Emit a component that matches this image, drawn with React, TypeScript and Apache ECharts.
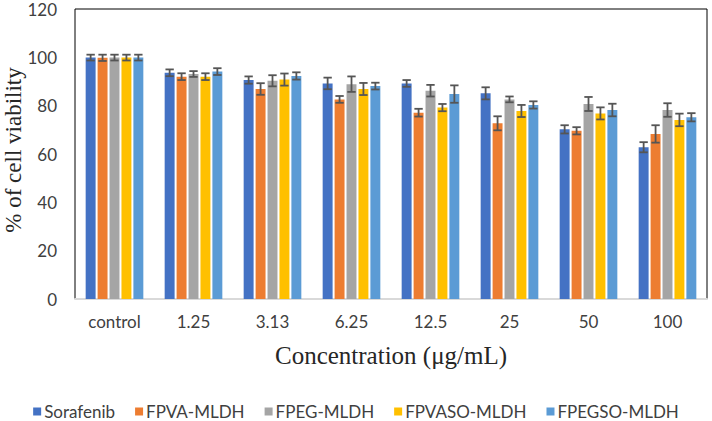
import React, { useEffect, useRef } from "react";
import * as echarts from "echarts";

const categories = ["control", "1.25", "3.13", "6.25", "12.5", "25", "50", "100"];
const seriesNames = ["Sorafenib", "FPVA-MLDH", "FPEG-MLDH", "FPVASO-MLDH", "FPEGSO-MLDH"];
const colors = ["#4472C4", "#ED7D31", "#A5A5A5", "#FFC000", "#5B9BD5"];

const sorafenib = [99.9, 93.6, 90.6, 89.2, 89.2, 85.1, 70.2, 62.8];
const fpva = [99.8, 92.0, 86.9, 82.6, 77.1, 72.7, 69.6, 68.3];
const fpeg = [99.9, 93.1, 90.3, 88.9, 86.2, 82.6, 80.7, 78.2];
const fpvaso = [99.9, 92.0, 90.8, 86.9, 79.2, 77.8, 76.8, 74.1];
const fpegso = [99.9, 94.1, 92.3, 88.1, 84.8, 80.3, 78.2, 75.2];

const errSorafenib = [1.2, 1.4, 1.5, 2.4, 1.4, 2.5, 1.7, 2.1];
const errFpva = [1.3, 1.4, 2.4, 1.4, 1.6, 2.9, 1.5, 3.6];
const errFpeg = [1.2, 1.2, 2.3, 3.2, 2.4, 1.2, 2.9, 2.8];
const errFpvaso = [1.2, 1.4, 2.5, 2.5, 1.5, 2.5, 2.5, 2.6];
const errFpegso = [1.2, 1.4, 1.5, 1.4, 3.6, 1.5, 2.6, 1.7];

const values = [sorafenib, fpva, fpeg, fpvaso, fpegso];
const errors = [errSorafenib, errFpva, errFpeg, errFpvaso, errFpegso];

const yTicks = { min: 0, max: 120, interval: 20 };
const yTitle = "% of cell viability";
const xTitle = "Concentration (μg/mL)";

const CAT_GAP = 0.27;
const BAR_GAP = 0.2;
const N = seriesNames.length;

export default function App() {
  const ref = useRef<HTMLDivElement>(null);
  useEffect(() => {
    if (!ref.current) return;
    const chart = echarts.init(ref.current, undefined, { renderer: "svg" });
    const tickFont = { fontFamily: "Lato", fontSize: 17, color: "#404040" };

    const barSeries = seriesNames.map((name, i) => ({
      name,
      type: "bar",
      data: values[i],
      itemStyle: { color: colors[i] },
      barGap: BAR_GAP * 100 + "%",
      barCategoryGap: CAT_GAP * 100 + "%",
    }));

    const errSeries = seriesNames.map((name, si) => ({
      name: name + " err",
      type: "custom",
      z: 5,
      data: values[si].map((v, ci) => [ci, v, errors[si][ci]]),
      renderItem: (params: any, api: any) => {
        const ci = api.value(0);
        const v = api.value(1);
        const e = api.value(2);
        const band = api.size([1, 0])[0];
        const usable = band * (1 - CAT_GAP);
        const bw = usable / (N + (N - 1) * BAR_GAP);
        const cx = api.coord([ci, v])[0] - usable / 2 + si * bw * (1 + BAR_GAP) + bw / 2;
        const yHi = api.coord([ci, v + e])[1];
        const yLo = api.coord([ci, v - e])[1];
        const half = bw * 0.42;
        const style = { stroke: "#555555", lineWidth: 1.8 };
        return {
          type: "group",
          children: [
            { type: "line", shape: { x1: cx, y1: yHi, x2: cx, y2: yLo }, style },
            { type: "line", shape: { x1: cx - half, y1: yHi, x2: cx + half, y2: yHi }, style },
            { type: "line", shape: { x1: cx - half, y1: yLo, x2: cx + half, y2: yLo }, style },
          ],
        };
      },
    }));

    chart.setOption({
      animation: false,
      grid: {
        left: 75,
        right: 5,
        top: 9,
        bottom: 122,
        show: true,
        borderColor: "#000",
        borderWidth: 1,
        backgroundColor: "transparent",
      },
      legend: {
        data: seriesNames,
        top: 398,
        left: "center",
        itemWidth: 8,
        itemHeight: 8,
        itemGap: 20,
        icon: "rect",
        textStyle: { fontFamily: "Lato", fontSize: 17, color: "#404040", padding: [0, 0, 0, -2] },
      },
      graphic: [
        {
          type: "text",
          x: 13,
          y: 150,
          rotation: Math.PI / 2,
          style: {
            text: yTitle,
            fontFamily: "Liberation Serif",
            fontSize: 23,
            fill: "#262626",
            align: "center",
            verticalAlign: "middle",
          },
        },
      ],
      xAxis: {
        type: "category",
        data: categories,
        axisLine: { show: true, lineStyle: { color: "#D9D9D9", width: 2 } },
        axisTick: { show: false },
        axisLabel: { ...tickFont, margin: 14 },
        name: xTitle,
        nameLocation: "middle",
        nameGap: 44,
        nameTextStyle: { fontFamily: "Liberation Serif", fontSize: 25, color: "#262626" },
      },
      yAxis: {
        type: "value",
        ...yTicks,
        splitLine: { show: false },
        axisLine: { show: false },
        axisTick: { show: false },
        axisLabel: { ...tickFont, margin: 18 },
      },
      series: [...barSeries, ...errSeries],
    });
    return () => chart.dispose();
  }, []);
  return <div ref={ref} style={{ width: 712, height: 421, position: "absolute", left: 0, top: 0 }} />;
}
